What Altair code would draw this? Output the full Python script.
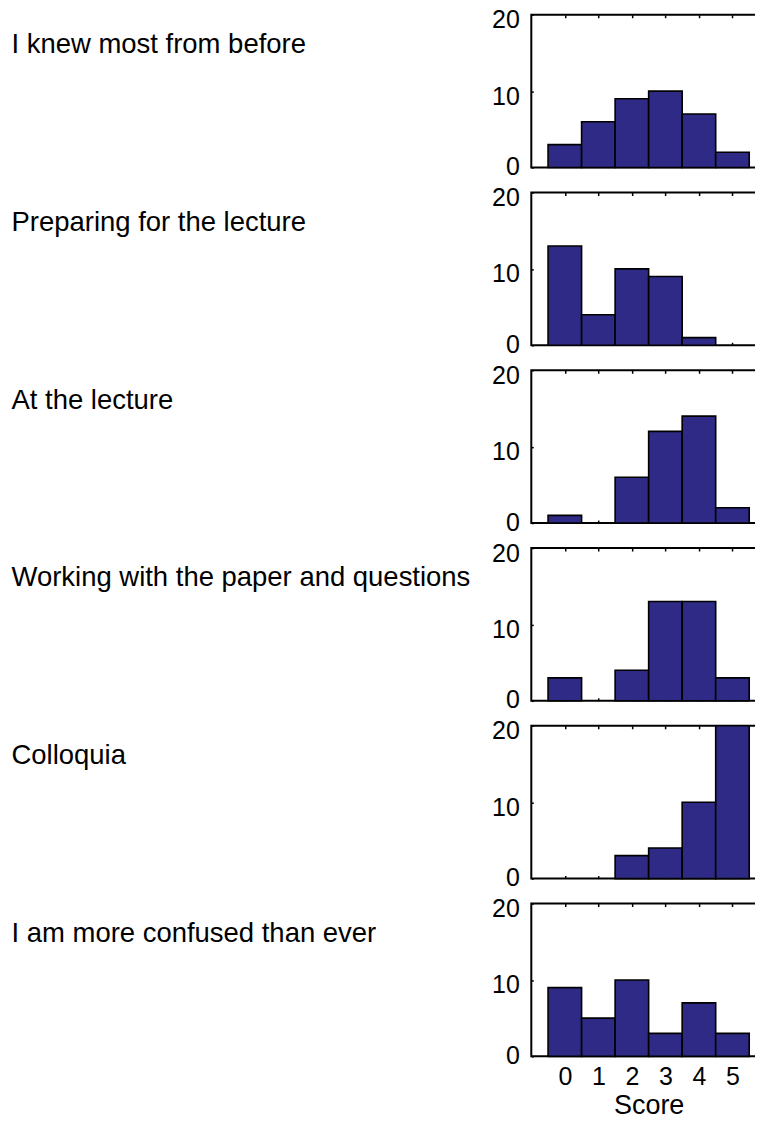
import altair as alt
import pandas as pd

labels = [
    "I knew most from before",
    "Preparing for the lecture",
    "At the lecture",
    "Working with the paper and questions",
    "Colloquia",
    "I am more confused than ever",
]
scores = [0, 1, 2, 3, 4, 5]
counts = [
    [3, 6, 9, 10, 7, 2],
    [13, 4, 10, 9, 1, 0],
    [1, 0, 6, 12, 14, 2],
    [3, 0, 4, 13, 13, 3],
    [0, 0, 3, 4, 10, 20],
    [9, 5, 10, 3, 7, 3],
]
y_ticks = [0, 10, 20]

BAR = "#2E2A86"
FONT = "Liberation Sans"


def panel(i):
    df = pd.DataFrame({"score": scores, "count": counts[i]})
    df = df[df["count"] > 0]
    last = i == len(labels) - 1
    xscale = alt.Scale(domain=[-1, 6], nice=False, zero=False)
    yscale = alt.Scale(domain=[0, 20], nice=False)
    base = alt.Chart(df).transform_calculate(
        lo="datum.score - 0.5", hi="datum.score + 0.5"
    )
    xaxis = dict(
        orient="bottom", values=scores, offset=-3, tickSize=3, tickWidth=1.5,
        tickColor="black", domain=False, grid=False, labels=last,
        labelFontSize=25, labelPadding=8, labelColor="black",
    )
    if last:
        xaxis.update(title="Score", titleFontSize=27, titleFontWeight="normal",
                     titlePadding=3, titleColor="black")
    else:
        xaxis.update(title=None)
    bars = base.mark_bar(color=BAR, stroke="black", strokeWidth=1.6).encode(
        x=alt.X("lo:Q", scale=xscale, axis=alt.Axis(**xaxis)),
        x2="hi:Q",
        y=alt.Y(
            "count:Q", scale=yscale,
            axis=alt.Axis(
                values=y_ticks, offset=-2, tickSize=2, tickWidth=1.5,
                tickColor="black", domain=False, grid=False,
                labelFontSize=25, labelPadding=12, labelColor="black",
                labelOffset={"condition": {"test": "datum.value === 0", "value": -1},
                             "value": 5},
                title=labels[i], titleAngle=0, titleAlign="left",
                titleBaseline="middle", titleX=-523, titleY=30,
                titleFontSize=27.5, titleFontWeight="normal", titleColor="black",
            ),
        ),
        y2=alt.datum(0),
    )
    topticks = base.mark_bar(opacity=0).encode(
        x=alt.X(
            "lo:Q", scale=xscale,
            axis=alt.Axis(orient="top", values=scores, offset=-3, tickSize=3,
                          tickWidth=1.5, tickColor="black", labels=False,
                          domain=False, grid=False, title=None),
        ),
        x2="hi:Q",
        y=alt.Y("count:Q", scale=yscale),
        y2=alt.datum(0),
    )
    return alt.layer(bars, topticks).resolve_axis(x="independent").properties(
        width=235, height=153
    )


chart = (
    alt.vconcat(*[panel(i) for i in range(len(labels))], spacing=25, bounds="flush")
    .properties(padding={"left": 2, "top": -2, "right": -12, "bottom": 0})
    .configure(font=FONT)
    .configure_view(stroke="black", strokeWidth=2)
)

chart.save("out.html", embed_options={"renderer": "svg", "actions": False})
